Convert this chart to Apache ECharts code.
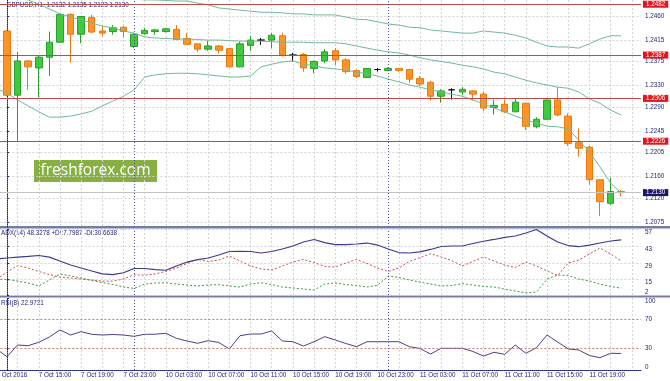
<!DOCTYPE html>
<html><head><meta charset="utf-8">
<script src="https://cdn.jsdelivr.net/npm/echarts@6/dist/echarts.min.js"></script>
<style>html,body{margin:0;padding:0;background:#fff}#c{width:670px;height:381px}</style>
</head><body><div id="c"></div>
<script>
// ---- data (bar index 0 = 7 Oct 12:00, one bar per hour) ----
const opens  = [1.2432,1.2312,1.2376,1.2363,1.2383,1.2411,1.2463,1.2426,1.2457,1.2432,1.2431,1.2439,1.2403,1.2427,1.2431,1.2431,1.2435,1.2418,1.2408,1.2398,1.2404,1.2399,1.2365,1.2405,1.2415,1.2415,1.2423,1.2387,1.2388,1.2362,1.2376,1.2395,1.2378,1.2358,1.2345,1.2360,1.2358,1.2362,1.2360,1.2343,1.2336,1.2310,1.2322,1.2318,1.2320,1.2314,1.2289,1.2295,1.2281,1.2297,1.2253,1.2267,1.2303,1.2273,1.2223,1.2215,1.2154,1.2110,1.2132];
const highs  = [1.2434,1.2393,1.2377,1.2387,1.2431,1.2464,1.2465,1.2460,1.2462,1.2441,1.2443,1.2441,1.2428,1.2438,1.2436,1.2438,1.2443,1.2428,1.2409,1.2414,1.2406,1.2400,1.2412,1.2423,1.2419,1.2428,1.2429,1.2391,1.2391,1.2377,1.2398,1.2400,1.2381,1.2360,1.2363,1.2363,1.2364,1.2363,1.2361,1.2348,1.2339,1.2323,1.2325,1.2327,1.2321,1.2319,1.2304,1.2304,1.2305,1.2298,1.2271,1.2304,1.2327,1.2278,1.2250,1.2217,1.2155,1.2157,1.2135];
const lows   = [1.2310,1.2225,1.2322,1.2308,1.2348,1.2410,1.2373,1.2409,1.2428,1.2423,1.2425,1.2420,1.2400,1.2425,1.2425,1.2429,1.2415,1.2406,1.2393,1.2395,1.2390,1.2364,1.2364,1.2395,1.2406,1.2400,1.2384,1.2375,1.2356,1.2353,1.2372,1.2368,1.2352,1.2344,1.2344,1.2356,1.2357,1.2356,1.2335,1.2329,1.2302,1.2298,1.2304,1.2312,1.2302,1.2282,1.2276,1.2279,1.2280,1.2247,1.2250,1.2266,1.2273,1.2217,1.2197,1.2145,1.2086,1.2107,1.2123];
const closes = [1.2312,1.2376,1.2365,1.2383,1.2411,1.2463,1.2426,1.2459,1.2430,1.2428,1.2438,1.2431,1.2426,1.2433,1.2434,1.2436,1.2416,1.2407,1.2398,1.2404,1.2396,1.2365,1.2408,1.2415,1.2415,1.2424,1.2387,1.2387,1.2363,1.2375,1.2393,1.2378,1.2356,1.2347,1.2362,1.2360,1.2362,1.2358,1.2342,1.2333,1.2310,1.2320,1.2322,1.2323,1.2314,1.2288,1.2293,1.2281,1.2299,1.2254,1.2267,1.2303,1.2275,1.2222,1.2213,1.2154,1.2113,1.2132,1.2130];

// indicator values, first entry = bar -1 (7 Oct 11:00)
const bbUpper  = [1.2550,1.2546,1.2542,1.2537,1.2531,1.2525,1.2520,1.2514,1.2509,1.2503,1.2499,1.2496,1.2494,1.2492,1.2490,1.2490,1.2489,1.2488,1.2488,1.2484,1.2481,1.2475,1.2473,1.2471,1.2469,1.2467,1.2467,1.2466,1.2464,1.2464,1.2462,1.2462,1.2462,1.2458,1.2454,1.2453,1.2449,1.2445,1.2443,1.2439,1.2438,1.2434,1.2432,1.2430,1.2428,1.2428,1.2432,1.2430,1.2428,1.2424,1.2419,1.2411,1.2404,1.2402,1.2402,1.2400,1.2408,1.2417,1.2423,1.2423];
const bbMiddle = [1.2512,1.2505,1.2497,1.2490,1.2482,1.2473,1.2464,1.2458,1.2453,1.2447,1.2441,1.2438,1.2432,1.2428,1.2421,1.2419,1.2418,1.2417,1.2417,1.2416,1.2415,1.2415,1.2414,1.2413,1.2413,1.2413,1.2412,1.2411,1.2411,1.2411,1.2410,1.2410,1.2410,1.2408,1.2404,1.2400,1.2396,1.2393,1.2391,1.2387,1.2382,1.2378,1.2375,1.2372,1.2368,1.2365,1.2361,1.2355,1.2352,1.2346,1.2340,1.2335,1.2331,1.2327,1.2325,1.2318,1.2305,1.2297,1.2284,1.2275];
const bbLower  = [1.2324,1.2316,1.2303,1.2292,1.2281,1.2271,1.2271,1.2273,1.2277,1.2282,1.2292,1.2301,1.2310,1.2322,1.2346,1.2350,1.2352,1.2353,1.2353,1.2352,1.2350,1.2348,1.2346,1.2346,1.2348,1.2365,1.2370,1.2374,1.2376,1.2370,1.2367,1.2363,1.2361,1.2359,1.2355,1.2352,1.2348,1.2342,1.2337,1.2331,1.2327,1.2322,1.2318,1.2314,1.2310,1.2303,1.2296,1.2288,1.2281,1.2273,1.2266,1.2260,1.2254,1.2253,1.2249,1.2228,1.2206,1.2178,1.2148,1.2129];
const adx      = [32.3,33.1,33.9,34.4,35.2,33.9,30.6,27.2,24.7,22.2,19.7,19.2,20.7,24.3,24.3,23.4,22.8,26.4,29.7,31.8,33.1,35.6,38.6,38.7,38.6,37.3,38.6,40.7,43.2,46.6,48.7,46.1,44.3,44.3,44.9,45.7,44.0,40.7,37.7,37.3,38.2,40.3,42.8,43.2,43.2,45.3,47.2,48.7,50.4,51.6,54.1,57.1,51.6,46.6,43.6,42.6,44.0,45.7,47.4,48.33];
const plusDI   = [15.4,15.0,13.8,12.1,9.6,14.6,19.7,18.0,16.3,14.2,12.5,10.8,8.7,7.5,11.2,12.1,12.3,11.2,10.4,9.6,10.4,10.7,9.6,8.7,11.2,12.3,10.8,8.7,7.9,7.0,6.2,11.2,12.1,10.8,10.0,8.7,10.2,18.0,16.7,14.6,12.9,11.2,9.6,10.0,11.5,10.4,9.1,8.7,7.0,5.4,3.9,4.5,15.4,18.8,18.4,15.4,13.8,11.2,9.1,7.80];
const minusDI  = [15.4,21.3,26.8,24.7,21.8,19.2,17.1,16.3,15.4,14.6,13.7,13.7,15.4,19.1,18.6,19.7,21.8,24.7,28.5,31.9,30.2,31.4,34.8,30.6,26.4,23.9,23.0,26.4,29.7,31.9,29.3,26.0,25.5,28.9,32.0,28.5,24.7,21.8,24.7,30.2,33.5,36.7,34.0,31.0,26.4,30.2,34.0,30.6,27.2,25.1,29.7,26.4,22.2,18.4,28.9,31.4,36.5,41.5,36.5,30.66];
const rsi      = [29.2,18.5,34.7,33.8,38.5,45.8,55.6,48.6,53.2,49.6,48.6,49.3,48.6,46.8,49.6,49.7,51.0,44.0,40.3,37.1,40.7,38.2,29.2,47.6,50.0,50.0,54.2,40.3,39.3,33.3,39.3,46.3,41.7,36.8,32.4,39.3,39.3,39.3,39.3,32.4,29.9,22.2,30.1,30.1,30.1,25.7,19.4,24.6,21.8,34.7,23.2,31.0,48.6,38.9,29.2,27.8,20.1,17.1,23.2,22.97];

const timeLabels = ['7 Oct 2016','7 Oct 15:00','7 Oct 19:00','7 Oct 23:00','10 Oct 03:00','10 Oct 07:00','10 Oct 11:00','10 Oct 15:00','10 Oct 19:00','10 Oct 23:00','11 Oct 03:00','11 Oct 07:00','11 Oct 11:00','11 Oct 15:00','11 Oct 19:00'];
const priceTicks = [1.2075,1.2120,1.2160,1.2205,1.2245,1.2290,1.2330,1.2375,1.2415,1.2460];
const levelLines = [1.2482,1.2387,1.2306,1.2226];
const bidPrice = 1.2130;
const adxTicks = [2,15,29,43,57];
const rsiTicks = [0,30,70,100];
const rsiLevels = [30,70];
const daySeparators = [12,36];
const titleText = 'GBPUSD,H1  1.2132 1.2135 1.2123 1.2130';
const adxText = 'ADX(14) 48.3278 +DI:7.7987 -DI:30.6638';
const rsiText = 'RSI(8) 22.9731';

// ---- build ----
const FONT = 'Liberation Sans', FS = 6.3, NAVY = '#1e1e6e';
const candles = opens.map((o, i) => [i, o, closes[i], lows[i], highs[i]]);
const ser = arr => arr.map((v, k) => [k - 1, v]);
const labelPos = timeLabels.map((t, k) => -1 + 4 * k);
const gridTicks = []; for (let v = -1; v <= 59; v += 2) gridTicks.push(v);
const xMin = -1, xMax = 59.873, gLeft = -3.589, gWidth = 644.589;

function xAxisFor(gi, showLabels) {
  return {
    type: 'value', gridIndex: gi, min: xMin, max: xMax,
    axisLine: { show: showLabels, onZero: false, lineStyle: { color: NAVY, type: 'dotted', width: 1 } },
    axisTick: { show: false, customValues: gridTicks },
    splitLine: { show: true, lineStyle: { color: '#d4d4d4', type: [2, 2], width: 1 } },
    axisLabel: showLabels ? { show: true, customValues: labelPos, formatter: v => timeLabels[Math.round((v + 1) / 4)] || '',
      align: 'left', color: NAVY, fontFamily: FONT, fontSize: FS, margin: 2 } : { show: false }
  };
}
const sepLines = daySeparators.map(v => ({ xAxis: v, lineStyle: { color: '#50509a', type: [1, 2], width: 1 }, label: { show: false } }));
const lblBase = { fontFamily: FONT, fontSize: FS, color: NAVY };
const boxLabel = bg => ({ show: true, position: 'end', formatter: p => Number(p.value).toFixed(4), color: '#fff', backgroundColor: bg, padding: [1, 3, 0, 3], fontFamily: FONT, fontSize: FS, distance: 2 });

const option = {
  animation: false,
  backgroundColor: '#fff',
  grid: [
    { left: gLeft, width: gWidth, top: 0, height: 227, containLabel: false, outerBoundsMode: 'none' },
    { left: gLeft, width: gWidth, top: 229, height: 66, containLabel: false, outerBoundsMode: 'none' },
    { left: gLeft, width: gWidth, top: 298, height: 72, containLabel: false, outerBoundsMode: 'none' }
  ],
  xAxis: [xAxisFor(0, false), xAxisFor(1, false), xAxisFor(2, true)],
  yAxis: [
    { type: 'value', gridIndex: 0, position: 'right', min: 1.206568, max: 1.248990, scale: true,
      axisLine: { show: true, lineStyle: { color: NAVY, type: 'dotted' } },
      axisTick: { show: true, length: 2, customValues: priceTicks, lineStyle: { color: NAVY } },
      axisLabel: Object.assign({ customValues: priceTicks, formatter: v => v.toFixed(4), margin: 4 }, lblBase),
      splitLine: { show: true, lineStyle: { color: '#d4d4d4', type: [2, 2] } } },
    { type: 'value', gridIndex: 1, position: 'right', min: 2, max: 57.5,
      axisLine: { show: true, lineStyle: { color: NAVY, type: 'dotted' } },
      axisTick: { show: true, length: 2, customValues: adxTicks, lineStyle: { color: NAVY } },
      axisLabel: Object.assign({ customValues: adxTicks, margin: 4, verticalAlign: 'top', verticalAlignMinLabel: 'bottom', verticalAlignMaxLabel: 'top' }, lblBase),
      splitLine: { show: true, lineStyle: { color: '#d4d4d4', type: [2, 2] } } },
    { type: 'value', gridIndex: 2, position: 'right', min: 0, max: 100,
      axisLine: { show: true, lineStyle: { color: NAVY, type: 'dotted' } },
      axisTick: { show: true, length: 2, customValues: rsiTicks, lineStyle: { color: NAVY } },
      axisLabel: Object.assign({ customValues: rsiTicks, margin: 4, verticalAlignMinLabel: 'bottom', verticalAlignMaxLabel: 'top' }, lblBase),
      splitLine: { show: false } }
  ],
  series: [
    { type: 'candlestick', xAxisIndex: 0, yAxisIndex: 0, barWidth: 7,
      dimensions: ['x', 'open', 'close', 'lowest', 'highest'],
      encode: { x: 'x', y: ['open', 'close', 'lowest', 'highest'] },
      data: candles,
      itemStyle: { color: '#3ec93e', color0: '#ff9326', borderColor: '#2c9e2c', borderColor0: '#e47a10', borderColorDoji: '#111', borderWidth: 1 },
      markLine: { silent: true, symbol: ['none', 'none'], animation: false, precision: 4,
        data: levelLines.map(v => ({ yAxis: v, lineStyle: { color: '#bd4a46', type: 'solid', width: 1 }, label: boxLabel('#e2141c') }))
          .concat([{ yAxis: bidPrice, lineStyle: { color: '#c4c4c4', type: 'solid', width: 1 }, label: boxLabel('#16166a') }])
          .concat(sepLines)
      } },
    { type: 'line', xAxisIndex: 0, yAxisIndex: 0, data: ser(bbUpper), showSymbol: false, lineStyle: { color: '#72b998', width: 1 } },
    { type: 'line', xAxisIndex: 0, yAxisIndex: 0, data: ser(bbMiddle), showSymbol: false, lineStyle: { color: '#72b998', width: 1 } },
    { type: 'line', xAxisIndex: 0, yAxisIndex: 0, data: ser(bbLower), showSymbol: false, lineStyle: { color: '#72b998', width: 1 } },
    { type: 'line', xAxisIndex: 1, yAxisIndex: 1, data: ser(adx), showSymbol: false, lineStyle: { color: '#3c3c8c', width: 1.2 },
      markLine: { silent: true, symbol: ['none', 'none'], data: sepLines } },
    { type: 'line', xAxisIndex: 1, yAxisIndex: 1, data: ser(plusDI), showSymbol: false, lineStyle: { color: '#3a9a44', width: 1, type: [2, 2] } },
    { type: 'line', xAxisIndex: 1, yAxisIndex: 1, data: ser(minusDI), showSymbol: false, lineStyle: { color: '#c8504e', width: 1, type: [2, 2] } },
    { type: 'line', xAxisIndex: 2, yAxisIndex: 2, data: ser(rsi), showSymbol: false, lineStyle: { color: '#44448a', width: 1 },
      markLine: { silent: true, symbol: ['none', 'none'],
        data: rsiLevels.map(v => ({ yAxis: v, lineStyle: { color: '#cf7d68', type: [2, 2], width: 1 }, label: { show: false } })).concat(sepLines) } }
  ],
  graphic: [
    { type: 'rect', shape: { x: 0, y: 226, width: 670, height: 2.5 }, style: { fill: '#777ca4' }, silent: true },
    { type: 'rect', shape: { x: 0, y: 295.5, width: 670, height: 2 }, style: { fill: '#777ca4' }, silent: true },
    { type: 'text', x: 6.5, y: 5, style: { text: titleText, fill: NAVY, font: FS + 'px "Liberation Sans"', verticalAlign: 'middle' } },
    { type: 'text', x: 1, y: 233, style: { text: adxText, fill: NAVY, font: FS + 'px "Liberation Sans"', verticalAlign: 'middle' } },
    { type: 'text', x: 1, y: 303, style: { text: rsiText, fill: NAVY, font: FS + 'px "Liberation Sans"', verticalAlign: 'middle' } },
    { type: 'rect', shape: { x: 34, y: 160, width: 123, height: 22 }, style: { fill: '#86b03f' }, silent: true },
    { type: 'text', x: 95.5, y: 171, style: { text: 'freshforex.com', fill: '#fff', font: '15.5px "Open Sans"', align: 'center', verticalAlign: 'middle' } }
  ]
};
const chart = echarts.init(document.getElementById('c'), null, { renderer: 'canvas', width: 670, height: 381 });
chart.setOption(option);
</script>
</body></html>
